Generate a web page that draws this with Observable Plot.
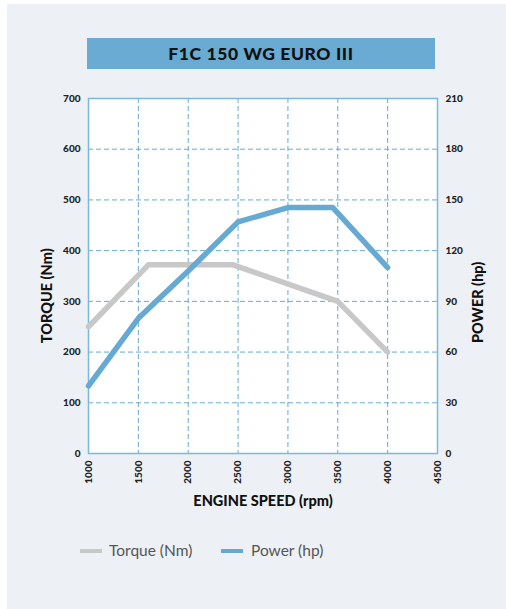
<!DOCTYPE html>
<html>
<head>
<meta charset="utf-8">
<script src="https://cdn.jsdelivr.net/npm/d3@7"></script>
<script src="https://cdn.jsdelivr.net/npm/@observablehq/plot@0.6"></script>
<style>
  html, body { margin: 0; padding: 0; background: #ffffff; }
  body { width: 506px; height: 609px; position: relative; overflow: hidden; font-family: Lato, "Open Sans", sans-serif; }
  #bg { position: absolute; left: 7px; top: 4px; right: 0; bottom: 0; background: #edf1f5; }
  #title { position: absolute; left: 87px; top: 38px; width: 348px; height: 31px; background: #69abd2;
           color: #111; font-weight: 900; font-size: 17.5px; text-align: center; line-height: 31px; letter-spacing: 0.6px; }
  #chart { position: absolute; left: 0; top: 80px; }
  #legend { position: absolute; top: 540px; left: 0; font-size: 15.5px; color: #555; }
  .item { position: absolute; white-space: nowrap; line-height: 20px; }
  .sw { position: absolute; top: 9px; width: 22px; height: 3.5px; }
</style>
</head>
<body>
<div id="bg"></div>
<div id="title"></div>
<div id="chart"></div>
<div id="legend"></div>
<script>
const titleText = "F1C 150 WG EURO III";
const xLabel = "ENGINE SPEED (rpm)";
const yLeftLabel = "TORQUE (Nm)";
const yRightLabel = "POWER (hp)";
const xTicks = [1000, 1500, 2000, 2500, 3000, 3500, 4000, 4500];
const torqueTicks = [0, 100, 200, 300, 400, 500, 600, 700];
const powerTicks = [0, 30, 60, 90, 120, 150, 180, 210];

const torqueRpm = [1000, 1600, 2450, 3500, 4000];
const torqueNm = [250, 372, 372, 300, 200];
const powerRpm = [1000, 1500, 2000, 2500, 3000, 3450, 4000];
const powerHp = [40, 80, 108, 137, 145.5, 145.5, 110];

const seriesNames = ["Torque (Nm)", "Power (hp)"];
const seriesColors = ["#c8c8c8", "#66aad3"];

const hpToNm = 700 / 210;
const torque = torqueRpm.map((r, i) => ({rpm: r, v: torqueNm[i]}));
const power = powerRpm.map((r, i) => ({rpm: r, v: powerHp[i] * hpToNm}));

document.getElementById("title").textContent = titleText;

const gridColor = "#69abd2";
const tickFont = {fontSize: 10, fontWeight: 900};
const plot = Plot.plot({
  width: 506,
  height: 460,
  marginLeft: 88,
  marginRight: 69,
  marginTop: 18,
  marginBottom: 87,
  style: {background: "transparent", fontFamily: "Lato, 'Open Sans', sans-serif", color: "#222"},
  x: {domain: [1000, 4500]},
  y: {domain: [0, 700]},
  marks: [
    Plot.frame({fill: "#ffffff"}),
    Plot.gridX(xTicks.slice(1, -1), {stroke: gridColor, strokeOpacity: 1, strokeDasharray: "5,3", strokeWidth: 1}),
    Plot.gridY(torqueTicks.slice(1, -1), {stroke: gridColor, strokeOpacity: 1, strokeDasharray: "5,3", strokeWidth: 1}),
    Plot.frame({stroke: "#7ab8dd", strokeWidth: 1.5}),
    Plot.axisX(xTicks, {tickSize: 0, tickPadding: 7, tickRotate: -90, tickFormat: d => String(d),
      ...tickFont, label: null}),
    Plot.axisY(torqueTicks, {anchor: "left", tickSize: 0, tickPadding: 8, ...tickFont, label: null}),
    Plot.axisY(powerTicks.map(d => d * hpToNm), {anchor: "right", tickSize: 0, tickPadding: 8,
      tickFormat: d => String(Math.round(d / hpToNm)), ...tickFont, label: null}),
    Plot.line(torque, {x: "rpm", y: "v", stroke: seriesColors[0], strokeWidth: 5.5, strokeLinejoin: "round"}),
    Plot.line(power, {x: "rpm", y: "v", stroke: seriesColors[1], strokeWidth: 5.5, strokeLinejoin: "round"}),
    Plot.text([xLabel], {x: 2750, y: 0, frameAnchor: "bottom", dy: 52, text: d => d,
      fontSize: 14.5, fontWeight: 900, fill: "#111"}),
    Plot.text([yLeftLabel], {x: 1000, y: 311, dx: -41, rotate: -90, text: d => d,
      fontSize: 14.5, fontWeight: 900, fill: "#111"}),
    Plot.text([yRightLabel], {x: 4500, y: 298, dx: 41, rotate: -90, text: d => d,
      fontSize: 14.5, fontWeight: 900, fill: "#111"})
  ]
});
document.getElementById("chart").appendChild(plot);

const legend = document.getElementById("legend");
const pos = [{sw: 80, tx: 109}, {sw: 221, tx: 251}];
seriesNames.forEach((name, i) => {
  const sw = document.createElement("div");
  sw.className = "sw";
  sw.style.left = pos[i].sw + "px";
  sw.style.background = seriesColors[i];
  legend.appendChild(sw);
  const t = document.createElement("div");
  t.className = "item";
  t.style.left = pos[i].tx + "px";
  t.textContent = name;
  legend.appendChild(t);
});
</script>
</body>
</html>
